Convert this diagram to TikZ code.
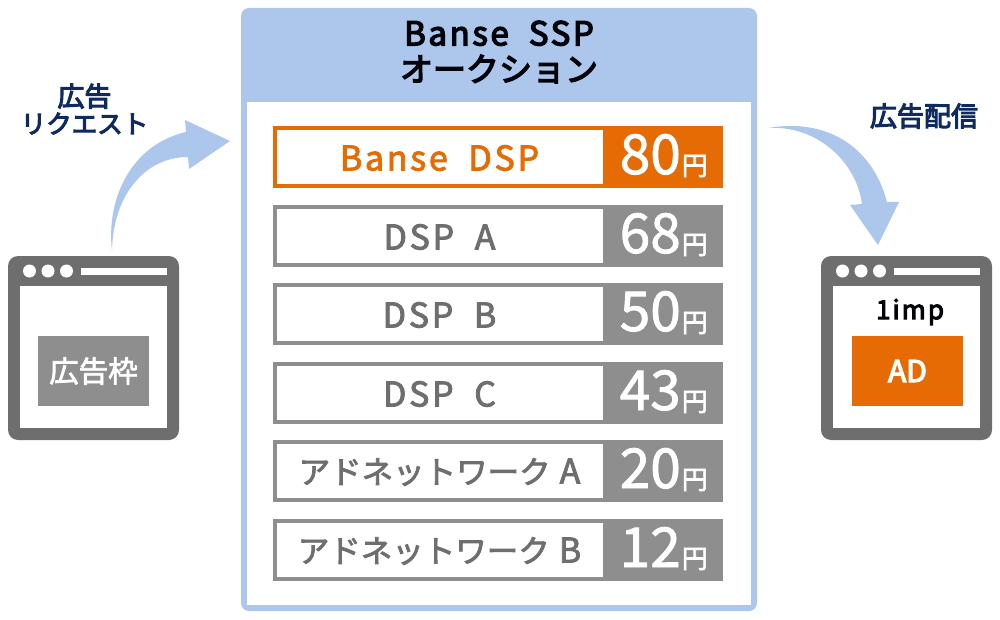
\documentclass[tikz,border=0pt]{standalone}
\usepackage{fontspec}
\setmainfont{Noto Sans CJK JP}
\newfontfamily\spaced[LetterSpace=8,WordSpace=2,FakeBold=2.5]{Noto Sans CJK JP}
\newfontfamily\kana[FakeBold=2.5]{Noto Sans CJK JP}
\newfontfamily\digitfont[FakeBold=1.5]{Noto Sans CJK JP}
\newfontfamily\heavy[FakeBold=4]{Noto Sans CJK JP}
\newfontfamily\heavysp[LetterSpace=8,WordSpace=2,FakeBold=4]{Noto Sans CJK JP}
\definecolor{panelblue}{HTML}{ADC6EC}
\definecolor{navy}{HTML}{0F2A5F}
\definecolor{winGray}{HTML}{6E6E6E}
\definecolor{boxGray}{HTML}{8E8E8E}
\definecolor{adOrange}{HTML}{E66B05}
\tikzset{
 x=1pt,y=-1pt,
 lbl/.style={font=\heavy\fontsize{27}{27}\selectfont,text=navy,align=center,inner sep=0},
 rowbox/.style={draw=#1,line width=4pt,fill=white,minimum width=330pt,minimum height=58pt,anchor=north west,inner sep=0},
 pricebox/.style={fill=#1,minimum width=120pt,minimum height=62pt,anchor=north west,inner sep=0},
 rowtext/.style={text=#1,font=\spaced\fontsize{34}{36}\selectfont,inner sep=0},
 digits/.style={text=white,font=\digitfont\fontsize{55}{56}\selectfont,inner sep=0,anchor=base east},
 yen/.style={text=white,font=\kana\fontsize{26}{30}\selectfont,inner sep=0,anchor=base east},
 dot/.style={circle,fill=white,minimum size=13pt,inner sep=0},
}
\newcommand{\browser}[2]{%
 \fill[winGray,rounded corners=10pt] (#1,256) rectangle ++(171,184);
 \fill[white] (#1+12,286) rectangle ++(147,142);
 \node[dot] (#2d1) at (#1+21.5,271) {};
 \node[dot] (#2d2) at (#1+40,271) {};
 \node[dot] (#2d3) at (#1+58.5,271) {};
 \fill[white] (#1+73,268) rectangle ++(86,7);
}
\newcommand{\pricerow}[6]{%
 \node[rowbox=#2] (#3) at (273,#1) {};
 \node[pricebox=#2] (#3p) at (603,#1) {};
 \node[rowtext=#4] (#3t) at (439.5,#1+32) {#5};
 \node[digits] (#3n) at (681,#1+48) {#6};
 \node[yen] (#3y) at (708,#1+49) {円};
}
\newcommand{\netw}[1]{{\kana\fontsize{31.5}{36}\selectfont アドネットワーク}\hspace{9pt}#1}
\begin{document}
\begin{tikzpicture}
\useasboundingbox (0,0) rectangle (1000,620);
% panel
\fill[panelblue,rounded corners=8pt] (241,8) rectangle (757,611);
\fill[white] (247,102) -- (751,102) -- (751,605) -- (247,605) -- cycle;
\node[font=\heavysp\fontsize{33}{37}\selectfont,align=center,inner sep=0,text=black!90!navy] (title) at (499,52) {Banse SSP\\[-1pt]{\heavy\fontsize{33}{37}\selectfont オークション}};
% rows
\pricerow{126}{adOrange}{r0}{adOrange}{Banse DSP}{80}
\pricerow{205}{boxGray}{r1}{winGray}{DSP A}{68}
\pricerow{283}{boxGray}{r2}{winGray}{DSP B}{50}
\pricerow{362}{boxGray}{r3}{winGray}{DSP C}{43}
\pricerow{440}{boxGray}{r4}{winGray}{\netw{A}}{20}
\pricerow{519}{boxGray}{r5}{winGray}{\netw{B}}{12}
% browsers
\browser{8}{L}
\node[fill=boxGray,minimum width=111pt,minimum height=70pt,inner sep=0,text=white,font=\kana\fontsize{29.5}{32}\selectfont] (slot) at (93.5,371) {広告枠};
\browser{821}{R}
\node[inner sep=0,text=black!90!navy,font=\heavysp\fontsize{26}{28}\selectfont] (imp) at (910,312) {1imp};
\node[fill=adOrange,minimum width=111pt,minimum height=70pt,inner sep=0,text=white,font=\heavy\fontsize{30}{32}\selectfont] (ad) at (907.5,371) {AD};
% labels
\node[lbl] (req) at (84.5,109) {広告\\{\fontsize{25.5}{27}\selectfont リクエスト}};
\node[lbl] (dist) at (924,116) {広告配信};
% arrows
\fill[panelblue] (112,251) .. controls (106,200) and (130,145) .. (186,132) -- (185,120) -- (230,141) -- (189,169) -- (188,157) .. controls (145,157) and (113,195) .. (112,251) -- cycle;
\fill[panelblue] (768,128) .. controls (825,118) and (872,145) .. (887,202) -- (899,202) -- (878,245) -- (850,205) -- (862,204) .. controls (856,160) and (815,125) .. (768,128) -- cycle;
\end{tikzpicture}
\end{document}
